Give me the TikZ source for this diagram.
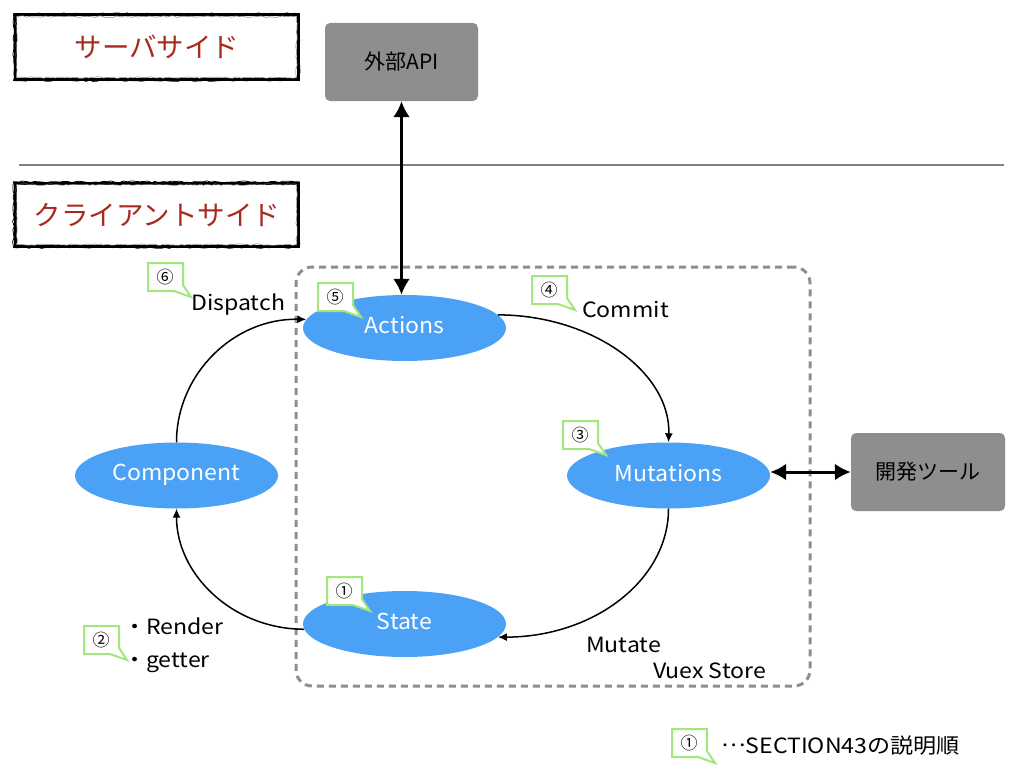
\documentclass[tikz,border=0pt]{standalone}
\usepackage{fontspec}
\setmainfont{Noto Sans CJK JP}
\newfontfamily\widelat{Noto Sans CJK JP}[FakeStretch=1.1]
\newfontfamily\widelatb{Noto Sans CJK JP}[FakeStretch=1.05]
\usetikzlibrary{arrows.meta,decorations.pathmorphing,shapes.geometric}
\definecolor{vblue}{HTML}{4AA1F6}
\definecolor{boxgray}{HTML}{8E8E8E}
\definecolor{dashgray}{HTML}{8F8F8F}
\definecolor{bgreen}{HTML}{A3E67C}
\definecolor{sidered}{HTML}{A82A1E}
\newcommand{\mybubble}[4]{%
  \draw[bubble] (#2,#3) -- ++(35,0) -- ++(0,22) -- ++(8,12) -- ++(-17,-6) -- ++(-26,0) -- cycle;
  \node[num] (#1) at (#2+17,#3+14) {#4};}
\newcommand{\roughbox}[4]{%
  \draw[line width=3pt] (#1,#2) rectangle (#3,#4);
  \draw[line width=0.8pt, decorate, decoration={random steps,segment length=4pt,amplitude=0.9pt}] (#1-1.5,#2-1.2) rectangle (#3+1.2,#4+1.5);
  \draw[line width=0.6pt, gray, decorate, decoration={random steps,segment length=3pt,amplitude=0.8pt}] (#1+1.5,#2+1.6) rectangle (#3-1.4,#4-1.4);}
\begin{document}
\begin{tikzpicture}[x=1pt,y=-1pt,
  blob/.style={ellipse, fill=vblue, minimum width=203pt, minimum height=66pt, inner sep=0pt, text=white, text depth=6pt, font=\widelatb\fontsize{22}{26}\selectfont},
  graybox/.style={rectangle, rounded corners=5pt, fill=boxgray, inner sep=0pt, font=\fontsize{21}{25}\selectfont},
  conn/.style={line width=1.5pt, -{Latex[length=9pt,width=8pt]}},
  dbl/.style={line width=3pt, {Latex[length=16pt,width=17pt]}-{Latex[length=16pt,width=17pt]}},
  lbl/.style={font=\widelat\fontsize{21}{25}\selectfont, inner sep=0pt, anchor=base west},
  bubble/.style={draw=bgreen, line width=2pt, fill=white, line join=miter},
  num/.style={font=\fontsize{17}{20}\selectfont, inner sep=0pt},
  sidetext/.style={text=sidered, font=\fontsize{27.5}{32}\selectfont, inner sep=0pt},
  store/.style={draw=dashgray, line width=3pt, dash pattern=on 7pt off 5pt, rounded corners=16pt, minimum width=514pt, minimum height=419pt, inner sep=0pt}
]
\useasboundingbox (0,0) rectangle (1024,768);
\pgfmathsetseed{7}
% side labels
\roughbox{15}{15}{298}{79}
\node[sidetext] (server) at (157,47) {サーバサイド};
\draw[line width=2pt, color=boxgray!90!black] (19,165) -- (1004,165);
\roughbox{15}{183}{298}{246}
\node[sidetext] (client) at (157,215) {クライアントサイド};
% external boxes
\node[graybox, minimum width=153pt, minimum height=78pt] (api) at (401.5,62) {外部API};
\node[graybox, minimum width=154pt, minimum height=78pt] (dev) at (928,472) {開発ツール};
% store
\node[store] (store) at (553,476.5) {};
\node[lbl] (vuex) at (653,678) {Vuex Store};
% ellipses
\node[blob] (actions) at (404.5,328) {Actions};
\node[blob] (mutations) at (668.5,475.5) {Mutations};
\node[blob] (state) at (404.5,624) {State};
\node[blob] (comp) at (176.5,475.5) {Component};
% connectors
\draw[conn] (comp.north) .. controls (176.5,374) and (234,318) .. (actions.175);
\draw[conn] (actions.8) .. controls (593,315) and (671,373) .. (mutations.north);
\draw[conn] (mutations.south) .. controls (668.5,580) and (594,637) .. (state.-8);
\draw[conn] (state.183) .. controls (232,629) and (176.5,574) .. (comp.south);
\draw[dbl] (api.south) -- (api.south |- actions.north);
\draw[dbl] (mutations.east |- dev.west) -- (dev.west);
% labels
\node[lbl] (dispatch) at (191,310) {Dispatch};
\node[lbl] (commit) at (582,317) {Commit};
\node[lbl] (mutate) at (586,652) {Mutate};
\node[lbl] (render) at (123,634) {・Render};
\node[lbl] (getter) at (123,667) {・getter};
% callouts
\mybubble{n6}{148}{263}{⑥}
\mybubble{n5}{318}{283}{⑤}
\mybubble{n4}{532}{276}{④}
\mybubble{n3}{563}{421}{③}
\mybubble{n1}{327}{577}{①}
\mybubble{n2}{84}{626}{②}
\mybubble{nl}{672}{729}{①}
\node[lbl] (legend) at (721,753) {\raisebox{0.3em}{…}SECTION43の説明順};
\end{tikzpicture}
\end{document}
